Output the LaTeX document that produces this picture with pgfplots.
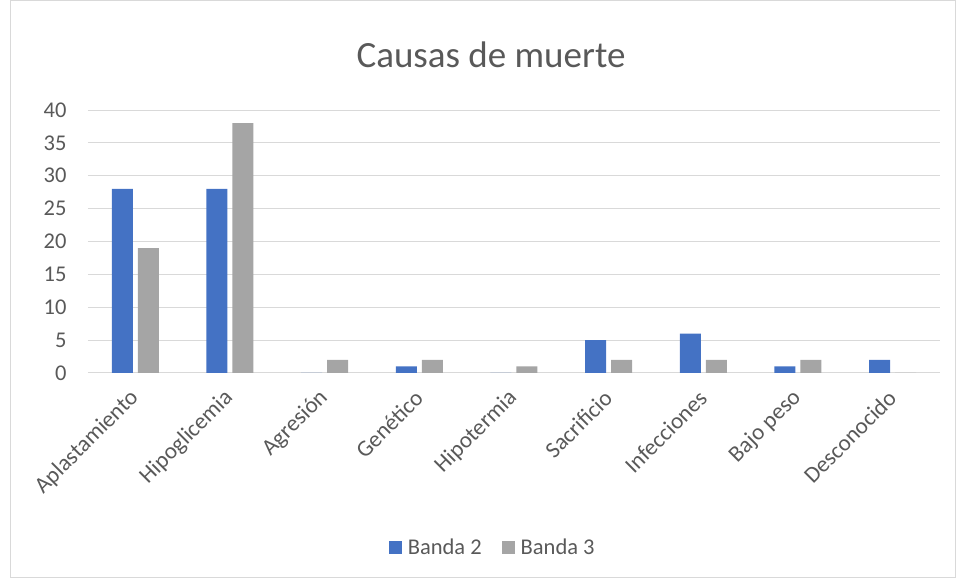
\documentclass[border=0pt]{standalone}
\usepackage{pgfplots}
\pgfplotsset{compat=1.18}
\usepackage{fontspec}
\setmainfont{Carlito}
\definecolor{b2}{HTML}{4472C4}
\definecolor{b3}{HTML}{A5A5A5}
\definecolor{txt}{HTML}{595959}
\definecolor{gridc}{HTML}{D9D9D9}
\begin{document}
\begin{tikzpicture}
\path[use as bounding box] (-88pt,-207pt) rectangle (868pt,373pt);
\draw[color=gridc, line width=1pt] (-77pt,-205pt) rectangle (867pt,372pt);
\begin{axis}[
  at={(0pt,0pt)}, anchor=south west,
  scale only axis, width=852pt, height=263pt,
  xmin=-0.5, xmax=8.5, ymin=0, ymax=40,
  ytick={0,5,...,40},
  xtick={0,...,8},
  xticklabels={Aplastamiento,Hipoglicemia,Agresión,Genético,Hipotermia,Sacrificio,Infecciones,Bajo peso,Desconocido},
  ymajorgrids, grid style={color=gridc, line width=1pt},
  axis line style={draw=none},
  major tick length=0pt,
  tick label style={font=\fontsize{22.5}{24}\selectfont, color=txt},
  /pgf/number format/assume math mode=true,
  yticklabel style={xshift=-18pt},
  xticklabel style={font=\fontsize{23}{25}\selectfont, xshift=2pt, yshift=-19pt, rotate=45, anchor=east},
  ybar=5pt, bar width=21pt,
  legend columns=2,
  legend style={at={(0.475,-0.665)}, anchor=center, draw=none, fill=none,
    font=\fontsize{22.5}{24}\selectfont, text=txt,
    /tikz/every odd column/.append style={column sep=4pt},
    /tikz/every even column/.append style={column sep=18pt}},
  legend image code/.code={\fill[#1] (0pt,-6.5pt) rectangle (13pt,6.5pt);},
]
\addplot[fill=b2, draw=none] coordinates {(0,28) (1,28) (2,0) (3,1) (4,0) (5,5) (6,6) (7,1) (8,2)};
\addplot[fill=b3, draw=none] coordinates {(0,19) (1,38) (2,2) (3,2) (4,1) (5,2) (6,2) (7,2) (8,0)};
\legend{Banda 2, Banda 3}
\end{axis}
\node[color=txt, font=\fontsize{37}{40}\selectfont] at (403pt,318pt) {Causas de muerte};
\end{tikzpicture}
\end{document}
